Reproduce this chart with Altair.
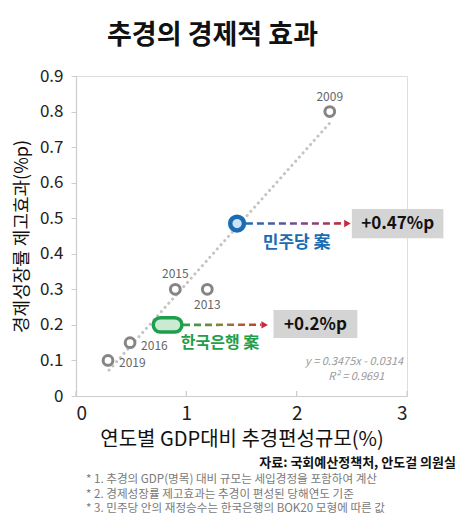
import altair as alt
import pandas as pd

FONT = "Noto Sans CJK KR"

# ---- data ----
years = ["2009", "2013", "2015", "2016", "2019"]
gdp_share = [2.30, 1.19, 0.90, 0.49, 0.29]          # 연도별 GDP대비 추경편성규모(%)
growth_effect = [0.80, 0.30, 0.30, 0.15, 0.10]       # 경제성장률 제고효과(%p)
label_side = ["above", "below", "above", "right", "right"]

trend_slope = 0.3475
trend_intercept = -0.0314
trend_x = [0.30, 2.30]

plan_names = ["민주당 案", "한국은행 案"]
plan_x = [1.46, 0.83]
plan_y = [0.485, 0.20]
plan_effect = ["+0.47%p", "+0.2%p"]

x_ticks = [0, 1, 2, 3]
y_ticks = [0, 0.1, 0.2, 0.3, 0.4, 0.5, 0.6, 0.7, 0.8, 0.9]

title_text = "추경의 경제적 효과"
x_title = "연도별 GDP대비 추경편성규모(%)"
y_title = "경제성장률 제고효과(%p)"
source_text = "자료: 국회예산정책처, 안도걸 의원실"
notes = [
    "* 1. 추경의 GDP(명목) 대비 규모는 세입경정을 포함하여 계산",
    "* 2. 경제성장률 제고효과는 추경이 편성된 당해연도 기준",
    "* 3. 민주당 안의 재정승수는 한국은행의 BOK20 모형에 따른 값",
]
eq_lines = ["y = 0.3475x - 0.0314", "R² = 0.9691"]

W, H = 331, 320

pts = pd.DataFrame({"x": gdp_share, "y": growth_effect, "year": years, "side": label_side})
trend = pd.DataFrame({"x": trend_x, "y": [trend_slope * v + trend_intercept for v in trend_x]})

xs = alt.Scale(domain=[0, 3], nice=False)
ys = alt.Scale(domain=[0, 0.9], nice=False)

X_AXIS = alt.Axis(
    values=x_ticks, title=x_title, ticks=False, grid=False, format="d",
    labelFontSize=19, labelColor="#222", labelPadding=8, labelFont=FONT,
    titleFontSize=20, titleFontWeight="normal", titleColor="#111", titleFont=FONT,
    titlePadding=6, domainColor="#cccccc", domainWidth=1.2)
Y_AXIS = alt.Axis(
    values=y_ticks, title=y_title, grid=False, tickSize=5, tickColor="#cccccc",
    labelExpr="datum.value == 0 ? '0' : format(datum.value, '.1f')",
    labelOverlap=False, labelFontSize=17, labelColor="#222", labelPadding=8, labelFont=FONT,
    titleFontSize=18, titleFontWeight="normal", titleColor="#111", titleFont=FONT,
    titlePadding=8, domainColor="#cccccc", domainWidth=1.2)


def X(f="x"):
    return alt.X(f"{f}:Q", scale=xs, axis=X_AXIS)


def Y(f="y"):
    return alt.Y(f"{f}:Q", scale=ys, axis=Y_AXIS)


def one(d):
    return alt.Chart(alt.Data(values=[d]))


layers = []

# x ticks pointing inward
layers.append(alt.Chart(pd.DataFrame({"x": x_ticks})).mark_rule(color="#cccccc", strokeWidth=1.2)
              .encode(x=X(), y=alt.value(H - 5), y2=alt.value(H)))

# trend line (dotted)
layers.append(alt.Chart(trend).mark_line(color="#c4c4c4", strokeWidth=3, strokeDash=[0.1, 5.5],
                                         strokeCap="round").encode(x=X(), y=Y()))

# year points
layers.append(alt.Chart(pts).mark_point(shape="circle", size=95, strokeWidth=3, color="#858585",
                                        fill="white", fillOpacity=1, opacity=1)
              .encode(x=X(), y=Y()))

lab_style = dict(font=FONT, fontSize=12, color="#666666")
layers.append(alt.Chart(pts).transform_filter("datum.side == 'above'")
              .mark_text(dy=-15, **lab_style).encode(x=X(), y=Y(), text="year:N"))
layers.append(alt.Chart(pts).transform_filter("datum.side == 'below'")
              .mark_text(dy=16, **lab_style).encode(x=X(), y=Y(), text="year:N"))
layers.append(alt.Chart(pts).transform_filter("datum.side == 'right'")
              .mark_text(align="left", dx=11, dy=3, **lab_style).encode(x=X(), y=Y(), text="year:N"))


# gradient dashed arrows
def grad(c1, c2, c3):
    return alt.LinearGradient(gradient="linear", x1=0, x2=1, y1=0, y2=0,
                              stops=[alt.GradientStop(color=c1, offset=0),
                                     alt.GradientStop(color=c2, offset=0.5),
                                     alt.GradientStop(color=c3, offset=1)])


arrows = [
    (plan_x[0] + 0.08, 2.43, plan_y[0], grad("#1b6db3", "#6f4d92", "#c3283c")),
    (plan_x[1] + 0.14, 1.68, plan_y[1], grad("#26a24c", "#8f7f3a", "#cc3a2c")),
]
for x0, x1, yy, g in arrows:
    layers.append(one({"x": x0, "x2": x1, "y": yy, "y2": yy + 0.0004})
                  .mark_rule(stroke=g, strokeWidth=2.6, strokeDash=[7, 4])
                  .encode(x=X(), x2="x2:Q", y=Y(), y2="y2:Q"))
    layers.append(one({"x": x1 + 0.03, "y": yy})
                  .mark_point(shape="triangle-right", filled=True, size=55, color="#c8283a", opacity=1)
                  .encode(x=X(), y=Y()))

# plan markers
layers.append(one({"x": plan_x[1] - 0.13, "x2": plan_x[1] + 0.13, "y": plan_y[1] - 0.02, "y2": plan_y[1] + 0.02})
              .mark_rect(fill="#c9ebd3", stroke="#1f9e4b", strokeWidth=3.5, cornerRadius=7)
              .encode(x=X(), x2="x2:Q", y=Y(), y2="y2:Q"))
layers.append(one({"x": plan_x[0], "y": plan_y[0]})
              .mark_point(shape="circle", size=190, strokeWidth=4.5, color="#1b6db3",
                          fill="#cfe2f3", fillOpacity=1, opacity=1)
              .encode(x=X(), y=Y()))

# result boxes
boxes = [
    (2.50, 3.33, 0.444, 0.526, 2.915, plan_y[0], plan_effect[0]),
    (1.79, 2.55, 0.163, 0.242, 2.17, plan_y[1], plan_effect[1]),
]
for bx0, bx1, by0, by1, tx, ty, txt in boxes:
    layers.append(one({"x": bx0, "x2": bx1, "y": by0, "y2": by1})
                  .mark_rect(fill="#d4d4d4")
                  .encode(x=X(), x2="x2:Q", y=Y(), y2="y2:Q"))
    layers.append(one({"x": tx, "y": ty, "t": txt})
                  .mark_text(font=FONT, fontSize=17, fontWeight="bold", color="#111")
                  .encode(x=X(), y=Y(), text="t:N"))

# plan names
layers.append(one({"x": 2.0, "y": 0.43, "t": plan_names[0]})
              .mark_text(font=FONT, fontSize=17, fontWeight="bold", color="#1b6db3")
              .encode(x=X(), y=Y(), text="t:N"))
layers.append(one({"x": 1.305, "y": 0.149, "t": plan_names[1]})
              .mark_text(font=FONT, fontSize=16, fontWeight="bold", color="#1f9e4b")
              .encode(x=X(), y=Y(), text="t:N"))

# regression equation
layers.append(one({"x": 2.52, "y": 0.096, "t": eq_lines[0]})
              .mark_text(font=FONT, fontSize=11, fontStyle="italic", color="#9a9a9a")
              .encode(x=X(), y=Y(), text="t:N"))
layers.append(one({"x": 2.54, "y": 0.053, "t": eq_lines[1]})
              .mark_text(font=FONT, fontSize=11, fontStyle="italic", color="#9a9a9a")
              .encode(x=X(), y=Y(), text="t:N"))

# source + footnotes (below the chart)
layers.append(one({}).mark_text(font=FONT, fontSize=13, fontWeight="bold", color="#111",
                                align="right", baseline="middle")
              .encode(x=alt.value(380), y=alt.value(387), text=alt.value(source_text)))
for i, n in enumerate(notes):
    layers.append(one({}).mark_text(font=FONT, fontSize=11.6, color="#7a7a7a",
                                    align="left", baseline="middle")
                  .encode(x=alt.value(10), y=alt.value(404 + 14.6 * i), text=alt.value(n)))

base = alt.Chart(pts).mark_point(opacity=0).encode(x=X(), y=Y())

chart = alt.layer(base, *layers).properties(
    width=W, height=H,
    title=alt.Title(title_text, font=FONT, fontSize=27, fontWeight="bold", color="#111",
                    anchor="start", frame="group", dx=31, offset=17),
    autosize=alt.AutoSizeParams(type="none"),
    padding={"left": 68, "top": 68, "right": 54, "bottom": 123},
).configure_view(stroke=None).configure(font=FONT)

chart.save("out.html", embed_options={"renderer": "svg", "actions": False})
